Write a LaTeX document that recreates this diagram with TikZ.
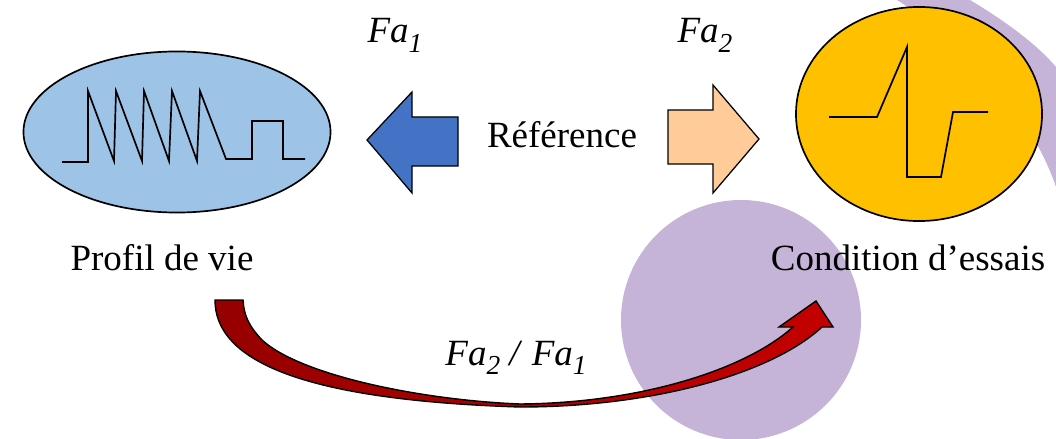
\documentclass[tikz,border=0pt]{standalone}
\usepackage{fontspec}
\setmainfont{Liberation Serif}
\usepackage{tikz}
\usetikzlibrary{shapes.geometric}
\definecolor{lifeblue}{RGB}{157,195,230}
\definecolor{testgold}{RGB}{255,192,0}
\definecolor{leftarr}{RGB}{68,114,196}
\definecolor{rightarr}{RGB}{255,204,153}
\definecolor{lilac}{RGB}{197,180,216}
\definecolor{darkred}{RGB}{150,0,0}
\definecolor{brightred}{RGB}{196,0,0}
\newcommand{\facc}[1]{\textit{Fa}\raisebox{-0.27em}{\fontsize{19.5}{22}\selectfont\itshape #1}}

\begin{document}
\begin{tikzpicture}[x=0.025cm,y=-0.025cm,
  lbl/.style={font=\fontsize{26.3}{30}\selectfont,inner sep=0pt,anchor=base},
  sig/.style={black,line width=1.2pt,line join=miter},
  blockarr/.style={draw=black,line width=0.9pt,line join=miter}]
  \useasboundingbox (0,0) rectangle (1056,439);
  % lilac background shapes
  \fill[lilac] (741,320) circle (120);
  \fill[lilac] (897,0) -- (970,0) .. controls (1000,18) and (1035,42) .. (1056,67)
    -- (1056,187) .. controls (1030,110) and (960,40) .. (897,0) -- cycle;
  % the two profiles
  \node[ellipse,draw,line width=1.2pt,fill=lifeblue,inner sep=0pt,
        minimum width=7.675cm,minimum height=4.025cm] (life) at (177,132) {};
  \node[ellipse,draw,line width=1.2pt,fill=testgold,inner sep=0pt,
        minimum width=6.15cm,minimum height=5.35cm] (test) at (919,114) {};
  \draw[sig] (62,162) -- (88,162) -- (88,91) -- (114,161) -- (116,91) -- (142,161)
    -- (144,91) -- (169,161) -- (172,91) -- (197,161) -- (200,91) -- (226,159)
    -- (252,159) -- (252,121) -- (283,121) -- (283,159) -- (305,159);
  \draw[sig] (829,117) -- (877,117) -- (907,47) -- (907,177) -- (941,177)
    -- (953,112) -- (988,112);
  % block arrows round the reference
  \draw[blockarr,fill=leftarr] (367,140) -- (412,92) -- (412,117) -- (458,117)
    -- (458,166) -- (412,166) -- (412,193) -- cycle;
  \draw[blockarr,fill=rightarr] (668,110) -- (713,110) -- (713,85) -- (759,139)
    -- (713,193) -- (713,164) -- (668,164) -- cycle;
  % labels
  \node[lbl] (fa1) at (395,43) {\facc{1}};
  \node[lbl] (fa2) at (705,43) {\facc{2}};
  \node[lbl] (ref) at (562,148) {Référence};
  \node[lbl] (lifelbl) at (162,270) {Profil de vie};
  \node[lbl] (testlbl) at (908,270) {Condition d’essais};
  % curved transfer arrow
  \shade[left color=darkred,right color=brightred,draw=black,line width=1pt,line join=miter]
    (215,300) .. controls (215,360) and (300,400) .. (520,407)
    .. controls (650,407) and (770,375) .. (822,327)
    -- (833,327) -- (816,301) -- (779,327) -- (793,327)
    .. controls (745,370) and (640,403) .. (520,404)
    .. controls (420,400) and (300,375) .. (262,340)
    .. controls (248,325) and (244,315) .. (243,300) -- cycle;
  \node[lbl] (ratio) at (516,365) {\facc{2} \textit{/} \facc{1}};
\end{tikzpicture}
\end{document}
